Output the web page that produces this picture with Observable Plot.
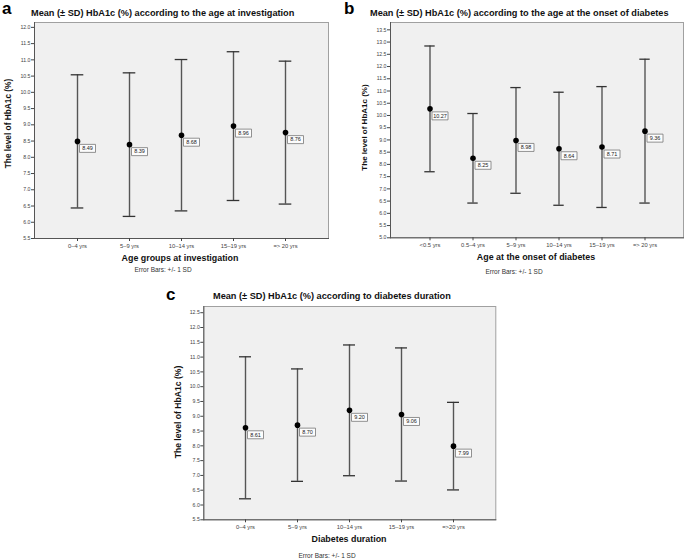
<!DOCTYPE html>
<html><head><meta charset="utf-8">
<script src="https://cdn.jsdelivr.net/npm/d3@7"></script>
<script src="https://cdn.jsdelivr.net/npm/@observablehq/plot@0.6"></script>
<style>
body{margin:0;background:#fff;}
#fig{position:relative;width:685px;height:559px;overflow:hidden;background:#fff;font-family:"Liberation Sans",Arial,sans-serif;}
.panel{position:absolute;}
#overlay{position:absolute;left:0;top:0;pointer-events:none;}
</style></head>
<body>
<div id="fig"></div>
<script>
// ---- Data ----
const catsA = ["0–4 yrs", "5–9 yrs", "10–14 yrs", "15–19 yrs", "=> 20 yrs"];
const meansA = [8.49, 8.39, 8.68, 8.96, 8.76];
const sdA = [2.05, 2.21, 2.33, 2.29, 2.20];

const catsB = ["<0.5 yrs", "0.5–4 yrs", "5–9 yrs", "10–14 yrs", "15–19 yrs", "=> 20 yrs"];
const meansB = [10.27, 8.25, 8.98, 8.64, 8.71, 9.36];
const sdB = [2.57, 1.83, 2.16, 2.31, 2.47, 2.94];

const catsC = ["0–4 yrs", "5–9 yrs", "10–14 yrs", "15–19 yrs", "=>20 yrs"];
const meansC = [8.61, 8.70, 9.20, 9.06, 7.99];
const sdC = [2.40, 1.90, 2.21, 2.25, 1.48];

const yTicksA = d3.range(5.5, 12.01, 0.5);
const yTicksB = d3.range(5.0, 13.51, 0.5);
const yTicksC = d3.range(5.5, 12.51, 0.5);

const titles = [
  "Mean (± SD) HbA1c (%) according to the age at investigation",
  "Mean (± SD) HbA1c (%) according to the age at the onset of diabetes",
  "Mean (± SD) HbA1c (%) according to diabetes duration"
];
const xLabels = ["Age groups at investigation", "Age at the onset of diabetes", "Diabetes duration"];
const yLabel = "The level of HbA1c (%)";
const caption = "Error Bars: +/- 1 SD";
const letters = ["a", "b", "c"];

const FONT = '"Liberation Sans", Arial, sans-serif';

const boxSymbol = {
  draw(ctx) {
    ctx.moveTo(-8, -4); ctx.lineTo(8, -4); ctx.lineTo(8, 4); ctx.lineTo(-8, 4); ctx.closePath();
  }
};

function makePanel(cats, means, sds, o) {
  const data = cats.map((c, i) => ({cat: c, mean: means[i], lo: means[i] - sds[i], hi: means[i] + sds[i]}));
  return Plot.plot({
    width: o.width, height: o.height,
    marginLeft: o.ml, marginRight: o.mr, marginTop: o.mt, marginBottom: o.mb,
    style: {fontFamily: FONT, background: "transparent", color: "#444", overflow: "visible"},
    x: {type: "band", domain: cats, paddingInner: 0, paddingOuter: o.po, axis: null},
    y: {domain: o.ydomain, axis: null},
    marks: [
      Plot.frame({fill: "#f0f0f0", stroke: "#a0a0a0"}),
      Plot.frame({anchor: "left", stroke: "#555"}),
      Plot.frame({anchor: "bottom", stroke: "#555"}),
      Plot.axisY({ticks: o.yticks, tickFormat: d3.format(".1f"), tickSize: 3, tickPadding: 1, fontSize: 5.2, label: null}),
      Plot.axisX({tickSize: 3, tickPadding: 2, fontSize: 5.8, label: null}),
      Plot.ruleX(data, {x: "cat", y1: "lo", y2: "hi", stroke: "#555", strokeWidth: 1.4}),
      Plot.tickY(data, {x: "cat", y: "hi", insetLeft: o.cap, insetRight: o.cap, stroke: "#333", strokeWidth: 1.3}),
      Plot.tickY(data, {x: "cat", y: "lo", insetLeft: o.cap, insetRight: o.cap, stroke: "#333", strokeWidth: 1.3}),
      Plot.dot(data, {x: "cat", y: "mean", r: 2.8, fill: "black"}),
      Plot.dot(data, {x: "cat", y: "mean", dx: 10, dy: 7, symbol: boxSymbol, r: 4, fill: "#fcfcfc", stroke: "#777", strokeWidth: 0.8}),
      Plot.text(data, {x: "cat", y: "mean", text: d => d.mean.toFixed(2), dx: 10, dy: 7, fontSize: 5.5, fill: "#222"})
    ]
  });
}

const fig = document.getElementById("fig");
function place(el, left, top) {
  const w = document.createElement("div");
  w.className = "panel"; w.style.left = left + "px"; w.style.top = top + "px";
  w.appendChild(el); fig.appendChild(w);
}

place(makePanel(catsA, meansA, sdA, {width: 340, height: 252, ml: 34, mr: 12, mt: 22, mb: 14,
  ydomain: [5.5, 12.15], yticks: yTicksA, po: 0.29, cap: 19.7}), 0, 0);
place(makePanel(catsB, meansB, sdB, {width: 345, height: 252, ml: 50, mr: 2, mt: 22, mb: 14.7,
  ydomain: [5.0, 13.8], yticks: yTicksB, po: 0.33, cap: 16.3}), 340, 0);
place(makePanel(catsC, meansC, sdC, {width: 350, height: 254, ml: 53.3, mr: 4.7, mt: 26, mb: 14.7,
  ydomain: [5.5, 12.71], yticks: yTicksC, po: 0.29, cap: 20}), 150, 280);

// ---- Text overlay ----
const svg = d3.select(fig).append("svg").attr("id", "overlay")
  .attr("width", 685).attr("height", 559).style("font-family", FONT);

const letterPos = [[2, 13.5], [344, 13.5], [166, 299.5]];
const titlePos = [[31, 15.5], [370, 15.5], [213, 299]];
const xLabPos = [[180, 261], [536, 259.5], [349, 541.5]];
const capPos = [[163, 271.5], [514, 274], [327, 557.5]];
const yLabPos = [[8, 123.5, 8.3], [364, 127.5, 8], [178, 412, 8.6]];

letters.forEach((t, i) => svg.append("text").attr("x", letterPos[i][0]).attr("y", letterPos[i][1])
  .attr("font-size", 17).attr("font-weight", "bold").attr("fill", "#000").text(t));
titles.forEach((t, i) => svg.append("text").attr("x", titlePos[i][0]).attr("y", titlePos[i][1])
  .attr("font-size", 9.2).attr("font-weight", "bold").attr("fill", "#111").text(t));
xLabels.forEach((t, i) => svg.append("text").attr("x", xLabPos[i][0]).attr("y", xLabPos[i][1])
  .attr("text-anchor", "middle").attr("font-size", 8.9).attr("font-weight", "bold").attr("fill", "#111").text(t));
capPos.forEach(p => svg.append("text").attr("x", p[0]).attr("y", p[1])
  .attr("text-anchor", "middle").attr("font-size", 6.5).attr("fill", "#333").text(caption));
yLabPos.forEach(p => svg.append("text").attr("transform", `translate(${p[0]},${p[1]}) rotate(-90)`)
  .attr("text-anchor", "middle").attr("dy", "0.35em").attr("font-size", p[2]).attr("font-weight", "bold").attr("fill", "#111").text(yLabel));
</script>
</body></html>
